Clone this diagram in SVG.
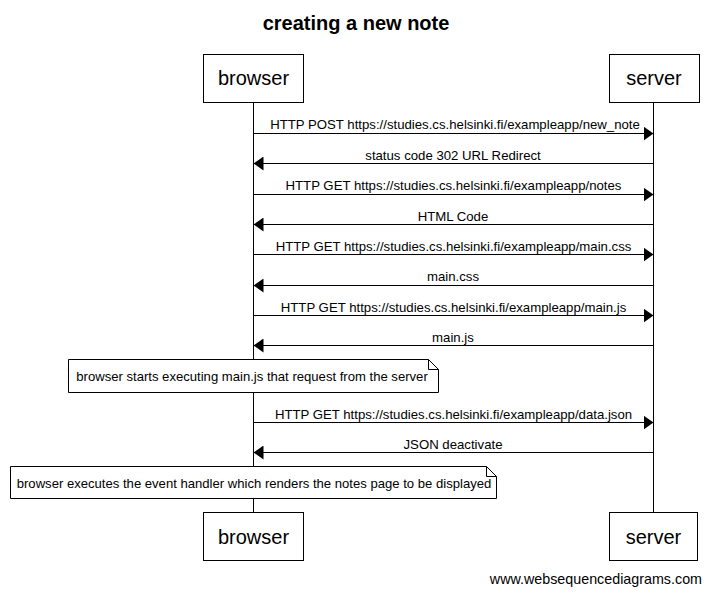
<svg xmlns="http://www.w3.org/2000/svg" width="711" height="595" viewBox="0 0 711 595">
<defs>
<style>
text{font-family:"Liberation Sans",Arial,sans-serif;fill:#000}
.title{font-size:20px;font-weight:bold;text-anchor:middle}
.part{font-size:20px;text-anchor:middle}
.msg{font-size:13.2px;text-anchor:middle}
.note-t{font-size:13.1px;text-anchor:middle}
.box{fill:#fff;stroke:#000;stroke-width:1}
.life{stroke:#000;stroke-width:1}
.arrow{stroke:#000;stroke-width:1;fill:none}
.wm{font-size:14.3px;text-anchor:end}
</style>
<marker id="ah" viewBox="0 0 10 14" refX="10" refY="7" markerWidth="10" markerHeight="14" markerUnits="userSpaceOnUse" orient="auto">
<path d="M0,0 L10,7 L0,14 Z" fill="#000"/>
</marker>
</defs>
<rect width="711" height="595" fill="#fff"/>
<text class="title" x="356" y="30">creating a new note</text>
<g id="lifelines">
<line class="life" x1="253.5" y1="103" x2="253.5" y2="512"/>
<line class="life" x1="653.5" y1="103" x2="653.5" y2="512"/>
</g>
<g id="browser-top"><rect class="box" x="203.5" y="54.5" width="100" height="48"/><text class="part" x="253.5" y="85">browser</text></g>
<g id="server-top"><rect class="box" x="609.5" y="54.5" width="90" height="48"/><text class="part" x="654" y="85">server</text></g>
<g id="connectors">
<line class="arrow" x1="253.5" y1="133.5" x2="653.5" y2="133.5" marker-end="url(#ah)"/>
<text class="msg" x="455" y="129">HTTP POST https://studies.cs.helsinki.fi/exampleapp/new_note</text>
<line class="arrow" x1="653.5" y1="163.5" x2="253.5" y2="163.5" marker-end="url(#ah)"/>
<text class="msg" x="453" y="159.5">status code 302 URL Redirect</text>
<line class="arrow" x1="253.5" y1="194.5" x2="653.5" y2="194.5" marker-end="url(#ah)"/>
<text class="msg" x="453.5" y="190">HTTP GET https://studies.cs.helsinki.fi/exampleapp/notes</text>
<line class="arrow" x1="653.5" y1="224.5" x2="253.5" y2="224.5" marker-end="url(#ah)"/>
<text class="msg" x="453" y="220.5">HTML Code</text>
<line class="arrow" x1="253.5" y1="254.5" x2="653.5" y2="254.5" marker-end="url(#ah)"/>
<text class="msg" x="453.5" y="250.5">HTTP GET https://studies.cs.helsinki.fi/exampleapp/main.css</text>
<line class="arrow" x1="653.5" y1="285.5" x2="253.5" y2="285.5" marker-end="url(#ah)"/>
<text class="msg" x="453" y="281">main.css</text>
<line class="arrow" x1="253.5" y1="315.5" x2="653.5" y2="315.5" marker-end="url(#ah)"/>
<text class="msg" x="453.5" y="311.5">HTTP GET https://studies.cs.helsinki.fi/exampleapp/main.js</text>
<line class="arrow" x1="653.5" y1="345.5" x2="253.5" y2="345.5" marker-end="url(#ah)"/>
<text class="msg" x="453" y="341.5">main.js</text>
<line class="arrow" x1="253.5" y1="422.5" x2="653.5" y2="422.5" marker-end="url(#ah)"/>
<text class="msg" x="453.5" y="418.5">HTTP GET https://studies.cs.helsinki.fi/exampleapp/data.json</text>
<line class="arrow" x1="653.5" y1="452.5" x2="253.5" y2="452.5" marker-end="url(#ah)"/>
<text class="msg" x="453" y="448.5">JSON deactivate</text>
</g>
<g id="note1">
<path class="box" d="M68.5,359.5 H428.5 L438.5,369.5 V392.5 H68.5 Z"/>
<path class="arrow" d="M428.5,359.5 V369.5 H438.5"/>
<text class="note-t" x="252" y="381">browser starts executing main.js that request from the server</text>
</g>
<g id="note2">
<path class="box" d="M10.5,466.5 H486.5 L496.5,476.5 V498.5 H10.5 Z"/>
<path class="arrow" d="M486.5,466.5 V476.5 H496.5"/>
<text class="note-t" x="254" y="487.5">browser executes the event handler which renders the notes page to be displayed</text>
</g>
<g id="browser-bottom"><rect class="box" x="203.5" y="512.5" width="100" height="48"/><text class="part" x="253.5" y="544">browser</text></g>
<g id="server-bottom"><rect class="box" x="609.5" y="512.5" width="88" height="48"/><text class="part" x="653.5" y="544">server</text></g>
<text class="wm" x="702" y="584">www.websequencediagrams.com</text>
</svg>
